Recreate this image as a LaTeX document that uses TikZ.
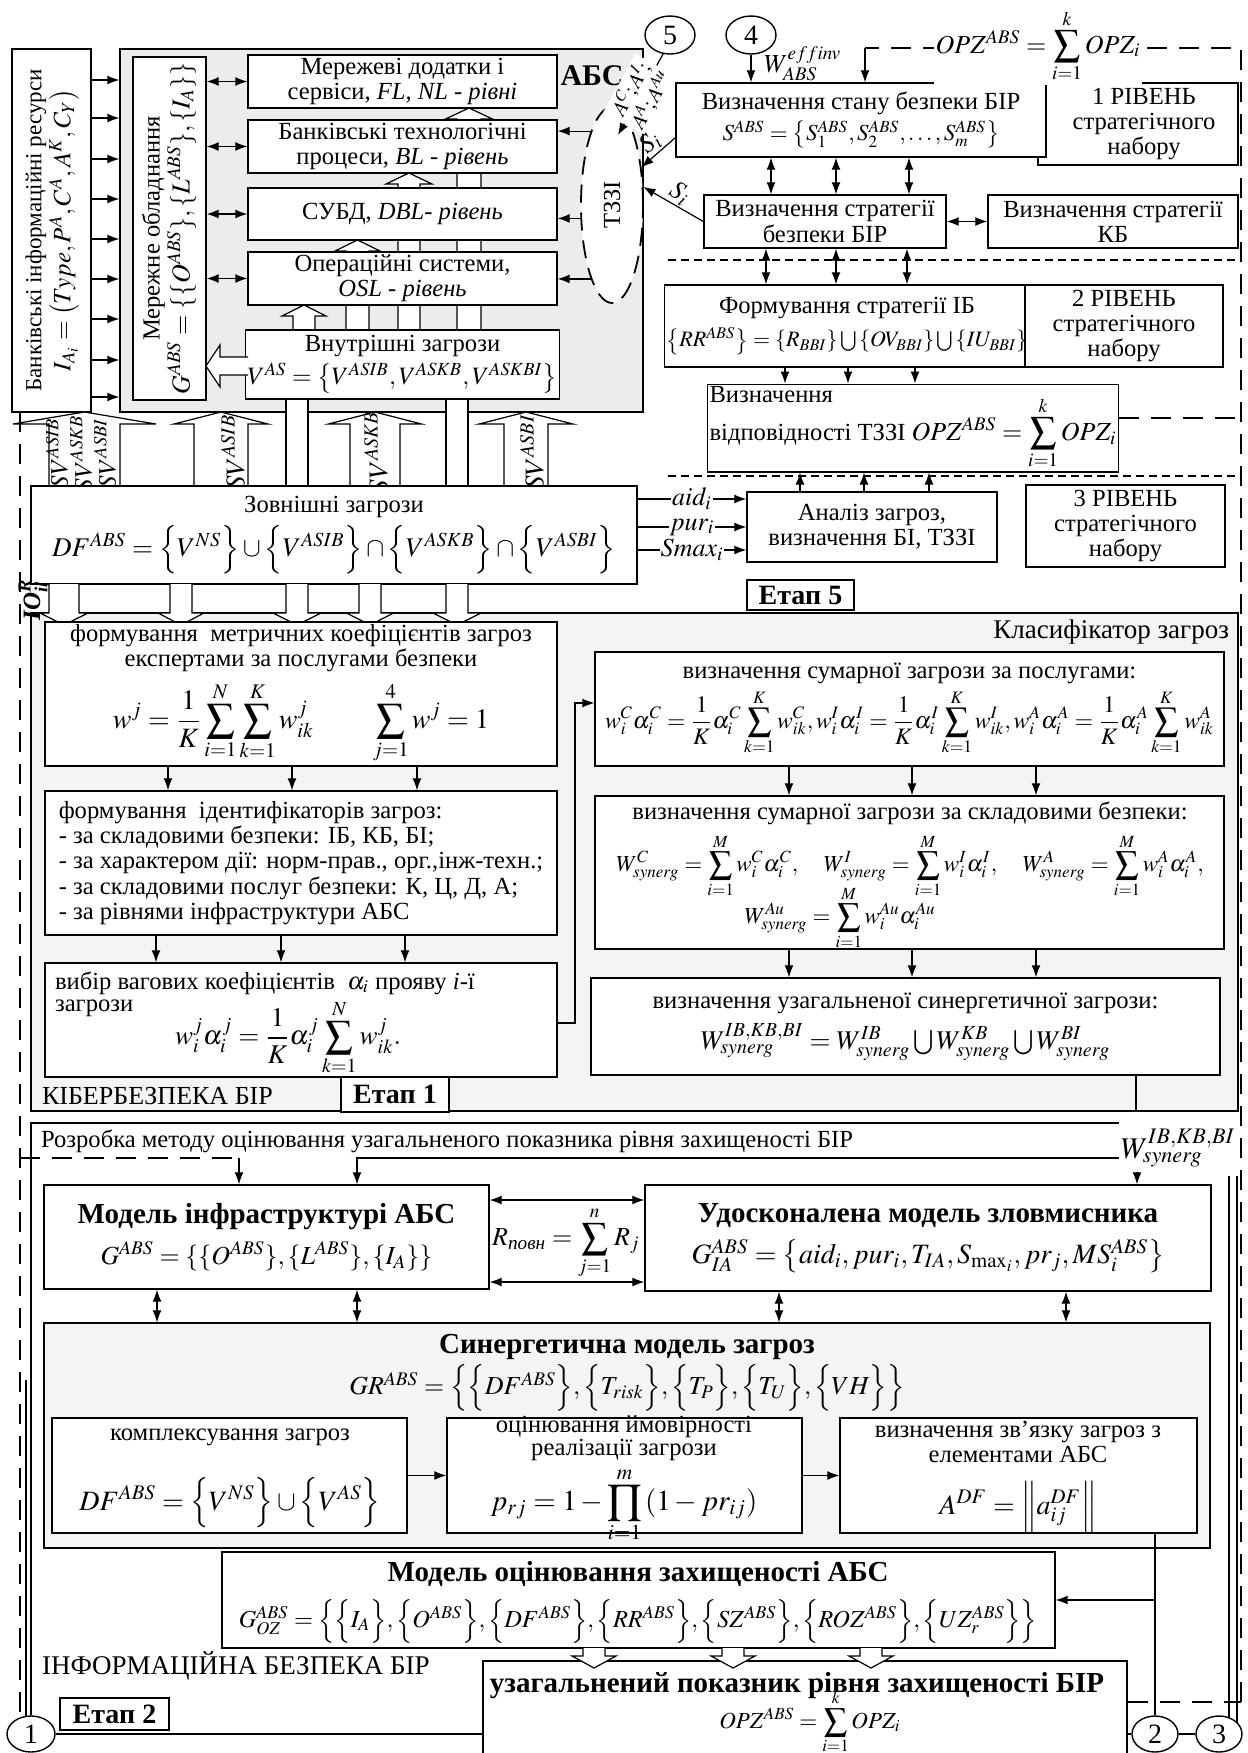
\documentclass[tikz,border=0pt]{standalone}
\usepackage{amsmath}
\usepackage{mathptmx}
\usepackage[no-math]{fontspec}
\setmainfont{Liberation Serif}
\usepackage{graphicx}
\usetikzlibrary{arrows.meta,shapes.geometric,calc}
\newcommand\fz[2]{\fontsize{#1}{#2}\selectfont}
\newcommand\mkbox[7][]{\pgfmathsetmacro\bw{(#5-#3)*0.5}\pgfmathsetmacro\bh{(#6-#4)*0.5}\pgfmathsetmacro\bcx{(#3+#5)/2}\pgfmathsetmacro\bcy{(#4+#6)/2}\node[bx,minimum width=\bw pt,minimum height=\bh pt,#1] (#2) at (\bcx,\bcy) {#7};}
\newcommand\holarrow[6]{\pgfmathsetmacro\ha{#1-#4}\pgfmathsetmacro\hb{#1+#4}\pgfmathsetmacro\hc{#1-#5}\pgfmathsetmacro\hd{#1+#5}\pgfmathsetmacro\he{#2+#6}\draw[hol] (\ha,#3) -- (\ha,\he) -- (\hc,\he) -- (#1,#2) -- (\hd,\he) -- (\hb,\he) -- (\hb,#3);}
\begin{document}
\begin{tikzpicture}[x=0.5pt,y=-0.5pt,
 every node/.style={font=\fz{12.3}{12.6}},
 bx/.style={draw,line width=0.7pt,fill=white,inner sep=1pt,align=center},
 lbl/.style={inner sep=0.5pt},
 ar/.style={-{Latex[length=6pt,width=4.5pt]},line width=0.6pt},
 dar/.style={{Latex[length=6pt,width=4.5pt]}-{Latex[length=6pt,width=4.5pt]},line width=0.6pt},
 ln/.style={line width=0.7pt},
 ldash/.style={line width=1pt,dash pattern=on 10pt off 6pt},
 sdash/.style={line width=0.6pt,dash pattern=on 4pt off 2.5pt},
 hol/.style={draw,line width=0.6pt,fill=white},
 circ/.style={draw,ellipse,line width=0.7pt,fill=white,inner sep=0pt,minimum width=25pt,minimum height=19pt,font=\fz{14}{14}},
]
\useasboundingbox (0,0) rectangle (1248,1753);
% ================= top left =================
\mkbox{bir}{12}{49}{91}{412}{\rotatebox{90}{\begin{tabular}{@{}c@{}}{\fz{11.5}{12}Банківські інформаційні ресурси}\\ {\fz{12.5}{13}$I_{A_i}=\left(Type, P^A, C^A, A^K, C_Y\right)$}\end{tabular}}}
\mkbox[fill=gray!15]{abs}{120}{49}{643}{412}{}
\node[font=\fz{15}{15}\bfseries] (abst) at (592,76) {АБС};
\holarrow{304}{305}{330}{11}{22}{11}
\holarrow{357.5}{240}{330}{11.5}{22.5}{11}
\holarrow{409}{173}{330}{11}{23}{11}
\holarrow{469}{108}{330}{12}{23.5}{11}
\mkbox{mer}{133}{57}{206}{400}{\rotatebox{90}{\begin{tabular}{@{}c@{}}Мережне обладнання\\ {\fz{13}{13}$G^{ABS}=\{\{O^{ABS}\}, \{L^{ABS}\}, \{I_A\}\}$}\end{tabular}}}
\mkbox{la}{248}{55}{557}{108}{Мережеві додатки і\\ сервіси, \textit{FL, NL - рівні}}
\mkbox{lb}{248}{120}{557}{173}{Банківські технологічні\\ процеси, \textit{BL - рівень}}
\mkbox{lc}{248}{188}{557}{240}{СУБД, \textit{DBL- рівень}}
\mkbox{ld}{248}{252}{557}{305}{Операційні системи,\\ \textit{OSL - рівень}}
\mkbox{vn}{248}{330}{557}{399}{Внутрішні загрози\\[2pt] {\fz{12.5}{13}$V^{AS}=\left\{V^{ASIB},V^{ASKB},V^{ASKBI}\right\}$}}
\draw[hol] (248,357) -- (220,357) -- (220,345) -- (206,366) -- (220,387) -- (220,375) -- (248,375);
\foreach \n in {la,lb,lc,ld} \draw[dar] (mer.east |- \n.west) -- (\n.west);
\foreach \yy in {80,118,159,199,239,279,319,360,397} {\coordinate (t) at (0,\yy); \draw[ar] (bir.east |- t) -- (abs.west |- t);}
\node[draw,ellipse,line width=0.9pt,dash pattern=on 9pt off 5pt,fill=white,minimum width=31pt,minimum height=98pt,inner sep=0pt] (tz) at (612,205) {\rotatebox{90}{ТЗЗІ}};
\draw[ar] (tz.106) -- (tz.106 -| lb.east);
\draw[ar] (tz.203) -- (tz.203 -| lc.east);
\draw[ar] (tz.254) -- (tz.254 -| ld.east);
\node[circ] (c5) at (670,35) {5};
\coordinate (aend) at (618,135);
\draw[ar] (c5.250) -- node[sloped,fill=white,inner sep=1pt,align=center,font=\fz{10.5}{10.5}] (alab) {$A^{C}; A^{I};$\\ $A^{A}; A^{Au}$} (aend);
% hollow arrows DF -> ABS
\holarrow{84.5}{412}{486}{35.5}{71.5}{12}
\holarrow{221}{412}{486}{27}{47}{12}
\holarrow{375}{412}{486}{25}{46.5}{12}
\holarrow{526}{412}{486}{22}{47}{12}
\draw[hol] (286,399) rectangle (308,486);
\draw[hol] (446,399) rectangle (468,486);
\node[rotate=90,font=\fz{12.5}{12.5}] (sv1) at (57,453) {$SV^{ASIB}$};
\node[rotate=90,font=\fz{12.5}{12.5}] (sv2) at (81,453) {$SV^{ASKB}$};
\node[rotate=90,font=\fz{12.5}{12.5}] (sv3) at (105,453) {$SV^{ASBI}$};
\node[rotate=90,font=\fz{13.5}{13.5}] (sv4) at (233,452) {$SV^{ASIB}$};
\node[rotate=90,font=\fz{13.5}{13.5}] (sv5) at (376,452) {$SV^{ASKB}$};
\node[rotate=90,font=\fz{13.5}{13.5}] (sv6) at (532,452) {$SV^{ASBI}$};
\mkbox{df}{31}{486}{637}{584}{Зовнішні загрози\\[3pt] {\fz{13.5}{14}$DF^{ABS}=\Bigl\{V^{NS}\Bigr\}\cup\Bigl\{V^{ASIB}\Bigr\}\cap\Bigl\{V^{ASKB}\Bigr\}\cap\Bigl\{V^{ASBI}\Bigr\}$}}
% ================= top right =================
\mkbox{r1}{1038}{83}{1238}{165}{\hspace*{6pt}1 РІВЕНЬ\\ \hspace*{6pt}стратегічного\\ \hspace*{6pt}набору}
\mkbox{stan}{676}{83}{1046}{157}{Визначення стану безпеки БІР\\[3pt] {\fz{11.5}{12}$S^{ABS}=\left\{S_1^{ABS},S_2^{ABS},\dots,S_m^{ABS}\right\}$}}
\mkbox{strat}{704}{195}{946}{248}{Визначення стратегії\\ безпеки БІР}
\mkbox{kb}{988}{195}{1238}{248}{Визначення стратегії\\ КБ}
\mkbox{form}{673}{285}{1021}{367}{Формування стратегії ІБ\\[4pt] {\fz{11}{12}$\left\{RR^{ABS}\right\}=\left\{R_{BBI}\right\}\bigcup\left\{OV_{BBI}\right\}\bigcup\left\{IU_{BBI}\right\}$}}
\mkbox{r2}{1025}{285}{1223}{367}{2 РІВЕНЬ\\ стратегічного\\ набору}
\mkbox[align=left]{vidp}{711}{393}{1115}{463}{Визначення\\[-4pt] відповідності ТЗЗІ {\fz{13}{13}$OPZ^{ABS}=\displaystyle\sum_{i=1}^{k}OPZ_i$}}
\mkbox{an}{747}{492}{997}{562}{Аналіз загроз,\\ визначення БІ, ТЗЗІ}
\mkbox{r3}{1026}{485}{1225}{567}{3 РІВЕНЬ\\ стратегічного\\ набору}
\mkbox[font=\fz{14}{14}\bfseries]{et5}{747}{580}{854}{610}{Етап 5}
\draw[dar] (strat.east) -- (kb.west);
\foreach \xx in {771,836,909} {\coordinate (t) at (\xx,0); \draw[dar] (stan.south -| t) -- (strat.north -| t);}
\foreach \xx in {766,836,907} {\coordinate (t) at (\xx,0); \draw[dar] (strat.south -| t) -- (form.north -| t);}
\foreach \xx in {785,848,915} {\coordinate (t) at (\xx,0); \draw[ar] (form.south -| t) -- (vidp.north -| t);}
\foreach \xx in {800,864,929} {\coordinate (t) at (\xx,0); \draw[ar] (an.north -| t) -- (vidp.south -| t);}
\draw[sdash] (668,260) -- (1241,260);
\draw[sdash] (668,476) -- (1241,476);
\foreach \yy/\lab in {499/{$aid_i$},527/{$pur_i$},550/{$Smax_i$}} {\coordinate (t) at (0,\yy); \draw[ar] (df.east |- t) -- node[fill=white,lbl,pos=0.5,font=\fz{13}{13}] {\lab} (an.west |- t);}
\path (stan.south west) ++(0,-20) coordinate (s1a);
\draw[ar] (s1a) -- node[sloped,above,lbl,font=\fz{13}{13}] (s1l) {$S_i$} (tz.52);
\draw[ar] (strat.west) -- node[sloped,above,lbl,font=\fz{13}{13}] (s2l) {$S_i$} (tz.30);
\node[circ] (c4) at (751,35) {4};
\draw[ar] (c4.south) -- (c4.south |- stan.north);
\node[anchor=west,font=\fz{13}{13}] (weff) at (757,64) {$W_{ABS}^{effinv}$};
% dashed loop
\coordinate (rt) at (1241,48);
\coordinate (rb) at (1241,1702);
\coordinate (tl) at (865,48);
\coordinate (vb) at (0,418);
\draw[ldash] (rb) -- (rt) -- (tl);
\draw[ar] (tl) -- (tl |- stan.north);
\draw[ldash] (vidp.east |- vb) -- (rt |- vb);
\node[fill=white,inner sep=1pt,font=\fz{13}{13}] (opztop) at (1038,46) {$OPZ^{ABS}=\displaystyle\sum_{i=1}^{k}OPZ_i$};
% left dashed
\coordinate (ltop) at (20,412);
\coordinate (lbot) at (20,1718);
\coordinate (lb1) at (20,1158);
\coordinate (lb2) at (239,1158);
\draw[ldash] (ltop) -- (lbot);
\draw[ldash] (lb1) -- (lb2);
% ================= classifier =================
\mkbox[fill=gray!9]{kl}{31}{613}{1238}{1111}{}
\node[anchor=north east,font=\fz{13.5}{14}] (klt) at (1236,613) {Класифікатор загроз};
\holarrow{64}{625}{584}{15}{24}{-12}
\holarrow{181}{625}{584}{11}{23}{-12}
\holarrow{297}{625}{584}{11}{24}{-12}
\holarrow{370}{625}{584}{11}{23.5}{-12}
\holarrow{457}{625}{584}{11}{24}{-12}
\node[rotate=90,font=\fz{12.5}{12.5}] (io) at (33,600) {$\textbf{\textit{IO}}_{\textbf{\textit{il}}}^{\textbf{\textit{R}}}$};
\mkbox{ba}{45}{625}{557}{763}{формування\ \ метричних коефіцієнтів загроз\\ експертами за послугами безпеки\\[4pt] {\fz{14}{14}$\displaystyle w^j=\frac{1}{K}\sum_{i=1}^{N}\sum_{k=1}^{K}w_{ik}^{j}\qquad \sum_{j=1}^{4}w^j=1$}}
\mkbox[align=left]{bb}{45}{791}{557}{935}{формування\ \ ідентифікаторів загроз:\\ - за складовими безпеки: ІБ, КБ, БІ;\\ - за характером дії: норм-прав., орг.,інж-техн.;\\ - за складовими послуг безпеки: К, Ц, Д, А;\\ - за рівнями інфраструктури АБС}
\mkbox{bc}{45}{963}{557}{1077}{}
\node[anchor=west] (bct1) at (48,983) {вибір вагових коефіцієнтів\ \ $\alpha_i$ прояву \textit{i}-ї};
\node[anchor=west] (bct2) at (48,1008) {загрози};
\node[font=\fz{13.5}{14}] (bcf) at (288,1038) {$\displaystyle w_i^j\alpha_i^j=\frac{1}{K}\alpha_i^j\sum_{k=1}^{N}w_{ik}^{j}.$};
\foreach \xx in {168,292,417} {\coordinate (t) at (\xx,0); \draw[ar] (ba.south -| t) -- (bb.north -| t);}
\foreach \xx in {156,281,405} {\coordinate (t) at (\xx,0); \draw[ar] (bb.south -| t) -- (bc.north -| t);}
\mkbox{bd}{595}{652}{1224}{766}{визначення сумарної загрози за послугами:\\[2pt] {\fz{11.8}{12}$\displaystyle w_i^C\alpha_i^C=\frac{1}{K}\alpha_i^C\sum_{k=1}^{K}w_{ik}^C, w_i^I\alpha_i^I=\frac{1}{K}\alpha_i^I\sum_{k=1}^{K}w_{ik}^I, w_i^A\alpha_i^A=\frac{1}{K}\alpha_i^A\sum_{k=1}^{K}w_{ik}^A$}}
\mkbox{be}{595}{796}{1224}{949}{}
\node (bet) at (910,813) {визначення сумарної загрози за складовими безпеки:};
\node[font=\fz{11.5}{12}] (bef1) at (910,866) {$\displaystyle W_{synerg}^{C}=\sum_{i=1}^{M}w_i^C\alpha_i^C,\quad W_{synerg}^{I}=\sum_{i=1}^{M}w_i^I\alpha_i^I,\quad W_{synerg}^{A}=\sum_{i=1}^{M}w_i^A\alpha_i^A,$};
\node[font=\fz{11.5}{12}] (bef2) at (840,918) {$\displaystyle W_{synerg}^{Au}=\sum_{i=1}^{M}w_i^{Au}\alpha_i^{Au}$};
\mkbox{bf}{591}{978}{1220}{1075}{визначення узагальненої синергетичної загрози:\\[4pt] {\fz{13.5}{14}$W_{synerg}^{IB,KB,BI}=W_{synerg}^{IB}\bigcup W_{synerg}^{KB}\bigcup W_{synerg}^{BI}$}}
\foreach \xx in {789,912,1036} {\coordinate (t) at (\xx,0); \draw[ar] (bd.south -| t) -- (be.north -| t); \draw[ar] (be.south -| t) -- (bf.north -| t);}
\coordinate (cdA) at (575,1023);
\coordinate (cdB) at (575,703);
\draw[ar] (bc.east |- cdA) -- (cdA) -- (cdB) -- (bd.west |- cdB);
\node[anchor=west,font=\fz{13}{13}] (kib) at (35,1096) {КІБЕРБЕЗПЕКА БІР};
\mkbox[font=\fz{14}{14}\bfseries]{et1}{341}{1077}{449}{1112}{Етап 1}
% ================= IB region =================
\node[circ,minimum width=24pt,minimum height=18pt] (c1) at (31,1734) {1};
\node[circ,minimum width=23pt,minimum height=18pt] (c2) at (1155,1734) {2};
\node[circ,minimum width=23pt,minimum height=18pt] (c3) at (1219,1734) {3};
\coordinate (ibL) at (31,1123);
\coordinate (ibR) at (1119,1123);
\draw[ln] (c1.north) -- (ibL) -- (ibR);
\coordinate (il2a) at (26,1717);
\coordinate (il2b) at (26,1380);
\draw[ln] (il2a) -- (il2b);
\node[anchor=west,font=\fz{12.3}{13}] (razr) at (34,1141) {Розробка методу оцінювання узагальненого показника рівня захищеності БІР};
\node[font=\fz{15}{15},inner sep=0pt] (wsyn) at (1178,1148) {$W_{synerg}^{IB,KB,BI}$};
\coordinate (wx) at (1136,0);
\draw[ln] (bf.south -| wx) -- (kl.south -| wx);
\coordinate (wsb) at (1137,1172);
\coordinate (wl) at (1119,1158);
\coordinate (wm) at (357,1158);
\mkbox{minf}{44}{1185}{489}{1289}{{\fz{14.5}{15}\bfseries Модель інфраструктурі АБС}\\[5pt] {\fz{13}{13}$G^{ABS}=\{\{O^{ABS}\}, \{L^{ABS}\}, \{I_A\}\}$}}
\mkbox{udos}{645}{1185}{1211}{1291}{{\fz{14.5}{15}\bfseries Удосконалена модель зловмисника}\\[5pt] {\fz{14}{14}$G_{IA}^{ABS}=\left\{aid_i, pur_i, T_{IA}, S_{\max_i}, pr_j, MS_i^{ABS}\right\}$}}
\draw[ar] (wsb) -- (wsb |- udos.north);
\draw[ar] (wl) -- (wm) -- (wm |- minf.north);
\draw[ar] (lb2) -- (lb2 |- minf.north);
\coordinate (ra) at (0,1200);
\coordinate (rb2) at (0,1282);
\draw[dar] (minf.east |- ra) -- (udos.west |- ra);
\draw[dar] (minf.east |- rb2) -- (udos.west |- rb2);
\node[font=\fz{13}{13}] (rp) at (566,1243) {$R_{\text{\itshape повн}}=\displaystyle\sum_{j=1}^{n}R_j$};
\mkbox[fill=gray!9]{syn}{44}{1323}{1210}{1548}{}
\node[font=\fz{14.5}{15}\bfseries] (synt) at (627,1347) {Синергетична модель загроз};
\node[font=\fz{13}{13}] (synf) at (627,1388) {$GR^{ABS}=\Bigl\{\Bigl\{DF^{ABS}\Bigr\},\Bigl\{T_{risk}\Bigr\},\Bigl\{T_P\Bigr\},\Bigl\{T_U\Bigr\},\Bigl\{VH\Bigr\}\Bigr\}$};
\foreach \xx in {157,357} {\coordinate (t) at (\xx,0); \draw[dar] (minf.south -| t) -- (syn.north -| t);}
\foreach \xx in {779,1066} {\coordinate (t) at (\xx,0); \draw[dar] (udos.south -| t) -- (syn.north -| t);}
\mkbox{kp}{52}{1418}{407}{1533}{}
\node (kpt) at (230,1437) {комплексування загроз};
\node[font=\fz{14}{14}] (kpf) at (230,1503) {$DF^{ABS}=\Bigl\{V^{NS}\Bigr\}\cup\Bigl\{V^{AS}\Bigr\}$};
\mkbox{oc}{447}{1418}{802}{1533}{}
\node[align=center,font=\fz{12.3}{11.5}] (oct) at (624,1438) {оцінювання ймовірності\\ реалізації загрози};
\node[font=\fz{14.5}{15}] (ocf) at (624,1505) {$\displaystyle p_{rj}=1-\prod_{i=1}^{m}\left(1-pr_{ij}\right)$};
\mkbox{zv}{840}{1418}{1197}{1533}{}
\node[align=center] (zvt) at (1018,1442) {визначення зв’язку загроз з\\ елементами АБС};
\node[font=\fz{14}{14}] (zvf) at (1018,1507) {$A^{DF}=\left\|a_{ij}^{DF}\right\|$};
\draw[ar] (kp.east) -- (oc.west);
\draw[ar] (oc.east) -- (zv.west);
\mkbox{moz}{222}{1552}{1055}{1648}{}
\node[font=\fz{14.5}{15}\bfseries] (mozt) at (638,1574) {Модель оцінювання захищеності АБС};
\node[font=\fz{12.2}{12.5}] (mozf) at (638,1621) {$G_{OZ}^{ABS}=\Bigl\{\Bigl\{I_A\Bigr\},\Bigl\{O^{ABS}\Bigr\},\Bigl\{DF^{ABS}\Bigr\},\Bigl\{RR^{ABS}\Bigr\},\Bigl\{SZ^{ABS}\Bigr\},\Bigl\{ROZ^{ABS}\Bigr\},\Bigl\{UZ_r^{ABS}\Bigr\}\Bigr\}$};
\mkbox{opz}{483}{1661}{1127}{1775}{}
\holarrow{594}{1668}{1648}{11}{22}{-12}
\holarrow{733}{1668}{1648}{11}{22}{-12}
\holarrow{871}{1668}{1648}{11}{22}{-12}
\node[font=\fz{14.5}{15}\bfseries] (opzt) at (797,1686) {узагальнений показник рівня захищеності БІР};
\node[font=\fz{11.5}{12}] (opzf) at (810,1722) {$OPZ^{ABS}=\displaystyle\sum_{i=1}^{k}OPZ_i$};
\node[anchor=west,font=\fz{13.5}{14}] (ibl) at (35,1666) {ІНФОРМАЦІЙНА БЕЗПЕКА БІР};
\mkbox[font=\fz{14}{14}\bfseries]{et2}{60}{1698}{169}{1730}{Етап 2}
\draw[ln] (c1.east) -- (c1.east -| opz.west);
\draw[ln] (c2.west -| opz.east) -- (c2.west);
\draw[ln] (c2.east) -- (c3.west);
\draw[ln] (zv.south -| c2.north) -- (c2.north);
\coordinate (mz) at (0,1600);
\draw[ar] (c2.north |- mz) -- (moz.east |- mz);
\draw[ldash] (opz.east |- rb) -- (rb);
\coordinate (rl1) at (1229,1176);
\coordinate (rl1b) at (1229,1718);
\coordinate (rl2) at (1237,1176);
\coordinate (rl2b) at (1237,1723);
\draw[ln] (rl1) -- (rl1b);
\draw[ln] (rl2) -- (rl2b);
\end{tikzpicture}
\end{document}
